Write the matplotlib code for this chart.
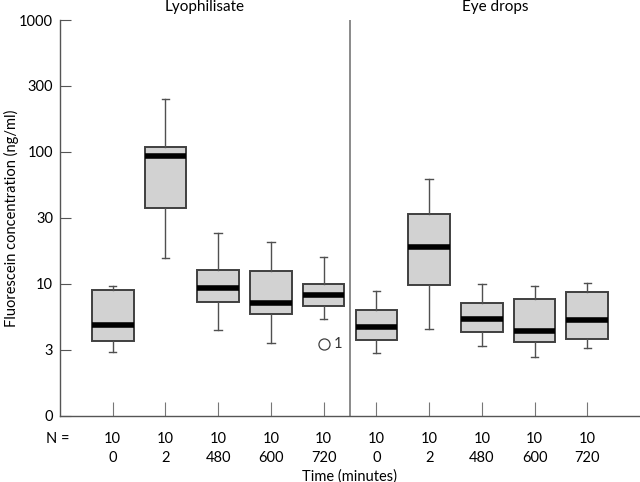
import numpy as np
import matplotlib.pyplot as plt

# box statistics (ng/ml)
groups = ['Lyophilisate', 'Eye drops']
times = ['0', '2', '480', '600', '720', '0', '2', '480', '600', '720']
n_obs = [10, 10, 10, 10, 10, 10, 10, 10, 10, 10]
whislo = [3.05, 15.7, 4.46, 3.59, 5.4, 3.02, 4.56, 3.39, 2.78, 3.26]
q1 = [3.72, 37.4, 7.26, 5.89, 6.85, 3.76, 9.78, 4.35, 3.66, 3.83]
med = [4.89, 92.7, 9.33, 7.18, 8.2, 4.72, 19.1, 5.46, 4.43, 5.34]
q3 = [9.0, 110, 12.8, 12.5, 10.05, 6.32, 34.1, 7.22, 7.74, 8.65]
whishi = [9.66, 250, 24.2, 20.7, 15.9, 8.9, 62.1, 9.95, 9.66, 10.2]
outliers = {4: [3.5]}  # box index -> values
outlier_case = {4: '1'}

yticks = [1, 10**0.5, 10, 10**1.5, 100, 10**2.5, 1000]
ytick_labels = ['0', '3', '10', '30', '100', '300', '1000']

stats = []
for i in range(len(med)):
    stats.append({'whislo': whislo[i], 'q1': q1[i], 'med': med[i], 'q3': q3[i],
                  'whishi': whishi[i], 'fliers': outliers.get(i, [])})

plt.rcParams['font.family'] = ['Lato', 'DejaVu Sans']
fig = plt.figure(figsize=(6.4, 4.82), dpi=100)
ax = fig.add_axes([0.09375, 0.137, 0.90625, 0.8215])

pos = np.arange(1, len(med) + 1)
ax.bxp(stats, positions=pos, widths=0.79, patch_artist=True,
       boxprops=dict(facecolor='#d2d2d2', edgecolor='#404040', linewidth=1.4),
       medianprops=dict(color='black', linewidth=4),
       whiskerprops=dict(color='#505050', linewidth=1),
       capprops=dict(color='#505050', linewidth=1),
       capwidths=0.14,
       flierprops=dict(marker='o', markerfacecolor='none', markeredgecolor='#404040',
                       markersize=8, markeredgewidth=0.9))
for i, txt in outlier_case.items():
    for v in outliers[i]:
        ax.text(pos[i] + 0.2, v, txt, va='center', ha='left', fontsize=10.5, color='#333333')

ax.set_yscale('log')
ax.set_ylim(1, 1000)
ax.set_xlim(0, 11)
ax.set_yticks(yticks)
ax.set_yticklabels(ytick_labels)
ax.yaxis.set_minor_locator(plt.NullLocator())
ax.tick_params(axis='y', direction='in', length=8, color='#555555', labelsize=10.5, pad=5)
ax.set_xticks(pos)
ax.set_xticklabels([])
ax.tick_params(axis='x', direction='in', length=10, color='#777777')

for s in ['top', 'right']:
    ax.spines[s].set_visible(False)
for s in ['left', 'bottom']:
    ax.spines[s].set_color('#555555')
    ax.spines[s].set_linewidth(1)

ax.axvline(5.5, color='#777777', linewidth=1.2)

trans = ax.get_xaxis_transform()
ax.text(2.75, 1.033, groups[0], transform=trans, ha='center', va='center', fontsize=11)
ax.text(8.25, 1.033, groups[1], transform=trans, ha='center', va='center', fontsize=11)

ax.text(-0.04, -0.058, 'N =', transform=trans, ha='center', va='center', fontsize=10.5)
for p, n, t in zip(pos, n_obs, times):
    ax.text(p, -0.058, str(n), transform=trans, ha='center', va='center', fontsize=10.5)
    ax.text(p, -0.107, t, transform=trans, ha='center', va='center', fontsize=10.5)
ax.text(5.5, -0.152, 'Time (minutes)', transform=trans, ha='center', va='center', fontsize=10.5)

ax.set_ylabel('Fluorescein concentration (ng/ml)', fontsize=10.5, va='center')
ax.yaxis.set_label_coords(-0.083, 0.5)

fig.savefig('out.png', dpi=100)
